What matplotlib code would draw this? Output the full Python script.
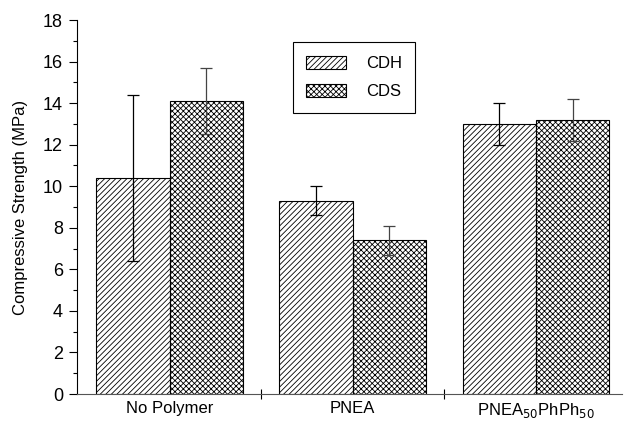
import numpy as np
import matplotlib
matplotlib.use("Agg")
import matplotlib.pyplot as plt
from matplotlib.ticker import FixedLocator, MultipleLocator

plt.rcParams["font.family"] = ["Liberation Sans", "DejaVu Sans"]
plt.rcParams["hatch.linewidth"] = 0.6

groups = ["No Polymer", "PNEA", "PNEA$_{50}$PhPh$_{50}$"]
cdh = [10.4, 9.3, 13.0]
cdh_err = [4.0, 0.7, 1.0]
cds = [14.1, 7.4, 13.2]
cds_err = [1.6, 0.7, 1.0]

fontsize = 12
width = 0.4

fig = plt.figure(figsize=(6.25, 4.23), dpi=100)
ax = fig.add_axes([77 / 625, 29 / 423, 545 / 625, 374 / 423])

x = np.arange(len(groups))

ax.bar(x - width / 2, cdh, width, color="white", edgecolor="black",
       hatch="//////", linewidth=0.8, label="CDH", zorder=2)
ax.bar(x + width / 2, cds, width, color="white", edgecolor="black",
       hatch="xxxxxx", linewidth=0.8, label="CDS", zorder=2)

ax.errorbar(x - width / 2, cdh, yerr=cdh_err, fmt="none", ecolor="black",
            elinewidth=0.9, capsize=4.5, capthick=0.9, zorder=3)
ax.errorbar(x + width / 2, cds, yerr=cds_err, fmt="none", ecolor="#444444",
            elinewidth=0.9, capsize=4.5, capthick=0.9, zorder=3)

ax.set_xlim(-0.505, 2.47)
ax.set_ylim(0, 18)

ax.set_xticks(x)
ax.set_xticklabels(groups, fontsize=fontsize)
ax.xaxis.set_minor_locator(FixedLocator([0.5, 1.5]))
ax.tick_params(axis="x", which="major", length=0, pad=5)
ax.tick_params(axis="x", which="minor", direction="inout", length=7, width=0.8)

ax.set_yticks(np.arange(0, 19, 2))
ax.yaxis.set_minor_locator(MultipleLocator(1))
ax.tick_params(axis="y", which="major", direction="out", length=6, width=0.8,
               labelsize=fontsize + 1, pad=4)
ax.tick_params(axis="y", which="minor", direction="out", length=3, width=0.8)

ax.set_ylabel("Compressive Strength (MPa)", fontsize=fontsize, labelpad=11)

for side in ["top", "right"]:
    ax.spines[side].set_visible(False)
ax.spines["left"].set_linewidth(0.8)
ax.spines["bottom"].set_linewidth(0.8)
ax.spines["bottom"].set_color("#555555")

leg = ax.legend(loc="upper left", bbox_to_anchor=(0.396, 0.94),
                fontsize=fontsize, fancybox=False, edgecolor="black",
                framealpha=1, handlelength=2.4, handleheight=0.8,
                borderpad=0.8, labelspacing=0.8, handletextpad=1.2,
                borderaxespad=0)
leg.get_frame().set_linewidth(0.8)

fig.savefig("out.png", dpi=100)
